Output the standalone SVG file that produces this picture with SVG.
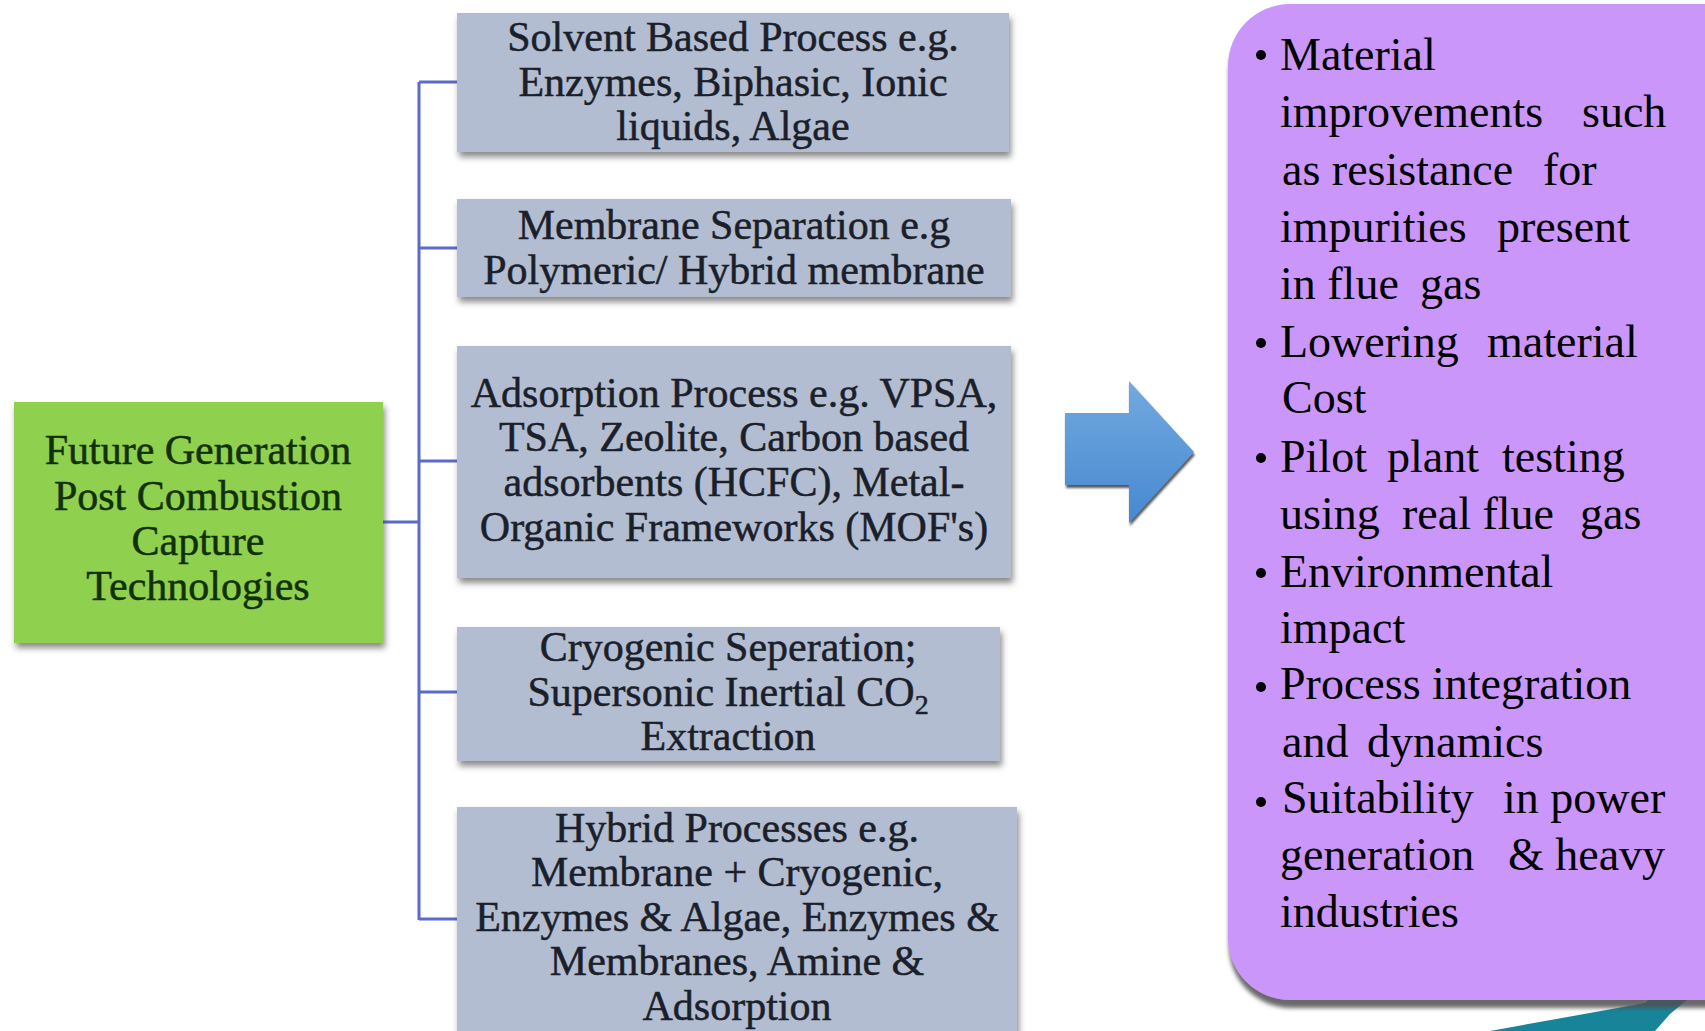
<svg xmlns="http://www.w3.org/2000/svg" width="1705" height="1031" viewBox="0 0 1705 1031">
<style>
.box{fill:#B3BDD1;filter:url(#sh);}
.t{font-family:"Liberation Serif","Times New Roman",serif;font-size:42px;fill:#1b1f2a;stroke:#1b1f2a;stroke-width:0.5;text-anchor:middle;}
.g{fill:#123005;stroke:#123005;}
.p{font-family:"Liberation Serif","Times New Roman",serif;font-size:46px;fill:#000;}
.c{stroke:#5a6bc8;stroke-width:3;fill:none;}
</style>
<defs>
<filter id="sh" x="-5%" y="-10%" width="115%" height="130%">
<feDropShadow dx="2" dy="5" stdDeviation="3" flood-color="#3a3a3a" flood-opacity="0.6"/>
</filter>
<filter id="sh2" x="-5%" y="-5%" width="115%" height="115%">
<feDropShadow dx="1" dy="8" stdDeviation="2" flood-color="#505050" flood-opacity="0.85"/>
</filter>
<filter id="sh3" x="-10%" y="-10%" width="130%" height="130%">
<feDropShadow dx="1" dy="3" stdDeviation="1" flood-color="#333" flood-opacity="0.8"/>
</filter>
<linearGradient id="ag" x1="0" y1="0" x2="0" y2="1">
<stop offset="0" stop-color="#72AAE0"/>
<stop offset="1" stop-color="#4788D0"/>
</linearGradient>
</defs>
<rect width="1705" height="1031" fill="#fff"/>

<g id="connectors">
<line class="c" x1="419" y1="82" x2="419" y2="920"/>
<line class="c" x1="383" y1="522" x2="419" y2="522"/>
<line class="c" x1="419" y1="82" x2="457" y2="82"/>
<line class="c" x1="419" y1="248" x2="457" y2="248"/>
<line class="c" x1="419" y1="461" x2="457" y2="461"/>
<line class="c" x1="419" y1="692" x2="457" y2="692"/>
<line class="c" x1="419" y1="919" x2="457" y2="919"/>
</g>

<g id="root">
<rect x="14" y="402" width="369" height="241" fill="#8FD150" filter="url(#sh)"/>
<text class="t g" x="198" y="464">Future Generation</text>
<text class="t g" x="198" y="510">Post Combustion</text>
<text class="t g" x="198" y="555">Capture</text>
<text class="t g" x="198" y="600">Technologies</text>
</g>

<g id="solvent">
<rect class="box" x="457" y="13" width="552" height="139"/>
<text class="t" x="733" y="51">Solvent Based Process e.g.</text>
<text class="t" x="733" y="96">Enzymes, Biphasic, Ionic</text>
<text class="t" x="733" y="140">liquids, Algae</text>
</g>

<g id="membrane">
<rect class="box" x="457" y="199" width="554" height="98"/>
<text class="t" x="734" y="239">Membrane Separation e.g</text>
<text class="t" x="734" y="284">Polymeric/ Hybrid membrane</text>
</g>

<g id="adsorption">
<rect class="box" x="457" y="346" width="554" height="232"/>
<text class="t" x="734" y="407">Adsorption Process e.g.  VPSA,</text>
<text class="t" x="734" y="451">TSA, Zeolite, Carbon based</text>
<text class="t" x="734" y="496">adsorbents (HCFC), Metal-</text>
<text class="t" x="734" y="541">Organic Frameworks (MOF's)</text>
</g>

<g id="cryogenic">
<rect class="box" x="457" y="627" width="543" height="134"/>
<text class="t" x="728" y="661">Cryogenic Seperation;</text>
<text class="t" x="728" y="706">Supersonic Inertial  CO<tspan font-size="28" dy="8">2</tspan></text>
<text class="t" x="728" y="750">Extraction</text>
</g>

<g id="hybrid">
<rect class="box" x="457" y="807" width="560" height="240"/>
<text class="t" x="737" y="842">Hybrid Processes e.g.</text>
<text class="t" x="737" y="886">Membrane + Cryogenic,</text>
<text class="t" x="737" y="931">Enzymes &amp; Algae, Enzymes &amp;</text>
<text class="t" x="737" y="975">Membranes, Amine &amp;</text>
<text class="t" x="737" y="1020">Adsorption</text>
</g>

<g id="arrow">
<polygon points="1065,413 1129,413 1129,381 1194,452 1129,523 1129,485 1065,485" fill="url(#ag)" filter="url(#sh3)"/>
</g>

<g id="swoosh">
<polygon points="1490,1031 1645,1003 1705,948 1705,985 1670,1014 1655,1031" fill="#17849A"/>
</g>

<g id="challenges">
<rect x="1228" y="4" width="540" height="996" rx="62" ry="62" fill="#CB96FA" filter="url(#sh2)"/>
<g fill="#000">
<circle cx="1261" cy="55" r="5"/>
<circle cx="1261" cy="343" r="5"/>
<circle cx="1261" cy="458" r="5"/>
<circle cx="1261" cy="573" r="5"/>
<circle cx="1261" cy="687" r="5"/>
<circle cx="1261" cy="802" r="5"/>
</g>
<text class="p" y="70"><tspan x="1280">Material</tspan></text>
<text class="p" y="127"><tspan x="1280">improvements</tspan><tspan x="1582">such</tspan></text>
<text class="p" y="185"><tspan x="1282">as resistance</tspan><tspan x="1543">for</tspan></text>
<text class="p" y="242"><tspan x="1280">impurities</tspan><tspan x="1497">present</tspan></text>
<text class="p" y="299"><tspan x="1280">in flue</tspan><tspan x="1420">gas</tspan></text>
<text class="p" y="357"><tspan x="1280">Lowering</tspan><tspan x="1487">material</tspan></text>
<text class="p" y="413"><tspan x="1282">Cost</tspan></text>
<text class="p" y="472"><tspan x="1280">Pilot</tspan><tspan x="1387">plant</tspan><tspan x="1502">testing</tspan></text>
<text class="p" y="529"><tspan x="1280">using</tspan><tspan x="1402">real flue</tspan><tspan x="1580">gas</tspan></text>
<text class="p" y="587"><tspan x="1280">Environmental</tspan></text>
<text class="p" y="643"><tspan x="1280">impact</tspan></text>
<text class="p" y="699"><tspan x="1280">Process integration</tspan></text>
<text class="p" y="757"><tspan x="1282">and</tspan><tspan x="1367">dynamics</tspan></text>
<text class="p" y="813"><tspan x="1282">Suitability</tspan><tspan x="1503">in power</tspan></text>
<text class="p" y="870"><tspan x="1280">generation</tspan><tspan x="1508">&amp; heavy</tspan></text>
<text class="p" y="927"><tspan x="1280">industries</tspan></text>
</g>
</svg>
